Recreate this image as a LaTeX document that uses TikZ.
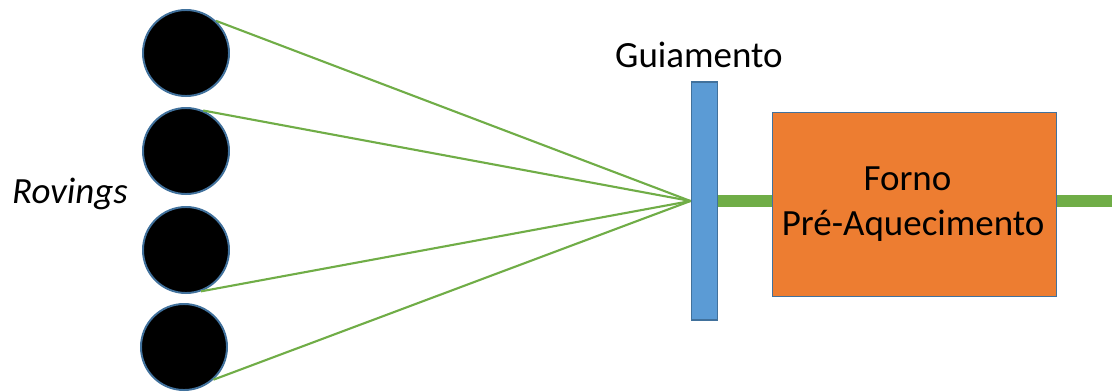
\documentclass[tikz,border=0pt]{standalone}
\usepackage{fontspec}
\setmainfont{Carlito}
\usetikzlibrary{calc}
\definecolor{bordablue}{HTML}{41719C}
\definecolor{guiablue}{HTML}{5B9BD5}
\definecolor{fibragreen}{HTML}{70AD47}
\definecolor{fornoorange}{HTML}{ED7D31}
\tikzset{
    roving/.style = {circle,
                    fill=black,
                    draw=bordablue,
                    line width=1.4pt,
                    inner sep=0pt,
                    minimum size=2.15cm},
    guia/.style =   {rectangle,
                    fill=guiablue,
                    draw=bordablue,
                    line width=1.4pt,
                    inner sep=0pt,
                    minimum width=0.65cm,
                    minimum height=5.95cm},
    forno/.style =  {rectangle,
                    fill=fornoorange,
                    draw=bordablue,
                    line width=1.3pt,
                    text=black,
                    align=center,
                    inner sep=0pt,
                    minimum width=7.1cm,
                    minimum height=4.6cm},
    label/.style =  {text=black,
                    inner sep=0pt},
    -,
    fibra/.style =  {draw=fibragreen, line width=1.5pt},
    fita/.style =   {draw=fibragreen, line width=9.2pt}}

\begin{document}
\begin{tikzpicture}[x=0.025cm,y=-0.025cm,font=\fontsize{26.3}{32}\selectfont]
                \useasboundingbox (0,0) rectangle (1112,391);
                % bobinas
                \node[roving]       (R1) at (186,53)        {};
                \node[roving]       (R2) at (186,151)       {};
                \node[roving]       (R3) at (186,250)       {};
                \node[roving]       (R4) at (184,347)       {};
                \node[label]        (rov) at (70,194)       {\itshape Rovings};
                % guia e forno
                \node[guia]         (G) at (704.5,201)      {};
                \node[label]        (gtxt) at (699,55)      {Guiamento};
                \node[forno]        (F) at (914.5,204.5)    {\hspace*{-10pt}Forno\\Pré-Aquecimento\hspace*{2pt}};
                \coordinate         (saida) at (1112,201);
                \path [fibra]   (R1.47)  edge   (G.west)
                                (R2.67)  edge   (G.west)
                                (R3.-70) edge   (G.west)
                                (R4.-48) edge   (G.west);
                \path [fita]    (G.east) edge   (G.east -| F.west)
                                (F.east |- saida) edge (saida);
        \end{tikzpicture}
\end{document}
